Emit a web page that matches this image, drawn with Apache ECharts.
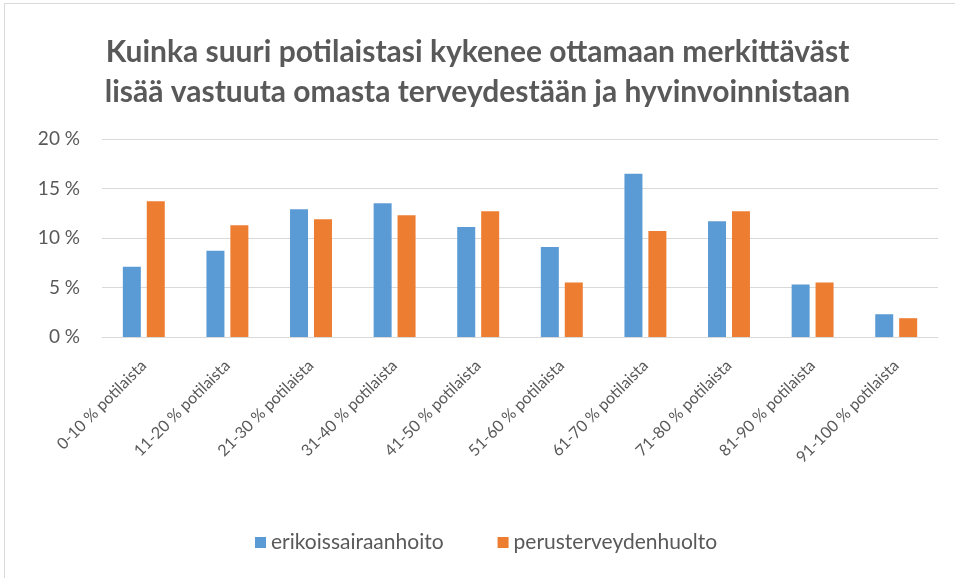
<!DOCTYPE html>
<html>
<head>
<meta charset="utf-8">
<script src="https://cdn.jsdelivr.net/npm/echarts@6/dist/echarts.min.js"></script>
<style>
html,body{margin:0;padding:0;background:#fff;}
#c{width:955px;height:578px;}
</style>
</head>
<body>
<div id="c"></div>
<script>
var titleText = "Kuinka suuri potilaistasi kykenee ottamaan merkittäväst\nlisää vastuuta omasta terveydestään ja hyvinvoinnistaan";
var categories = ["0-10 % potilaista","11-20 % potilaista","21-30 % potilaista","31-40 % potilaista","41-50 % potilaista","51-60 % potilaista","61-70 % potilaista","71-80 % potilaista","81-90 % potilaista","91-100 % potilaista"];
var seriesNames = ["erikoissairaanhoito","perusterveydenhuolto"];
var erikoissairaanhoito = [7.1, 8.7, 12.9, 13.5, 11.1, 9.1, 16.5, 11.7, 5.3, 2.3];
var perusterveydenhuolto = [13.7, 11.3, 11.9, 12.3, 12.7, 5.5, 10.7, 12.7, 5.5, 1.9];
var yTicks = [0, 5, 10, 15, 20];

var chart = echarts.init(document.getElementById('c'), null, {renderer:'canvas'});
var fontFam = 'Lato, "Open Sans", sans-serif';
chart.setOption({
  animation:false,
  backgroundColor:'#ffffff',
  graphic:[{type:'rect', shape:{x:4.5,y:3.5,width:960,height:590}, style:{fill:'none', stroke:'#d9d9d9', lineWidth:1}, silent:true}],
  title:{
    text:titleText, left:'center', top:27,
    textStyle:{fontFamily:fontFam, fontWeight:'bold', fontSize:30, color:'#595959', lineHeight:40}
  },
  legend:{
    data:seriesNames, bottom:20, left:250, itemWidth:11, itemHeight:11, itemGap:54,
    icon:'rect',
    textStyle:{fontFamily:fontFam, fontSize:21, color:'#595959'}
  },
  grid:{left:102, right:17, top:139, bottom:241, containLabel:false},
  xAxis:{
    type:'category', data:categories,
    axisLine:{lineStyle:{color:'#d9d9d9', width:1}},
    axisTick:{show:false},
    axisLabel:{rotate:45, interval:0, fontFamily:fontFam, fontSize:16, color:'#595959', margin:26}
  },
  yAxis:{
    type:'value', min:yTicks[0], max:yTicks[yTicks.length-1], interval:5,
    axisLine:{show:false}, axisTick:{show:false},
    splitLine:{lineStyle:{color:'#d9d9d9', width:1}},
    axisLabel:{formatter:function(v){return v+' %';}, fontFamily:fontFam, fontSize:19, color:'#595959', margin:22}
  },
  series:[
    {name:seriesNames[0], type:'bar', data:erikoissairaanhoito, barWidth:18, barGap:'33%', itemStyle:{color:'#5B9BD5'}},
    {name:seriesNames[1], type:'bar', data:perusterveydenhuolto, barWidth:18, barGap:'33%', itemStyle:{color:'#ED7D31'}}
  ]
});
</script>
</body>
</html>
